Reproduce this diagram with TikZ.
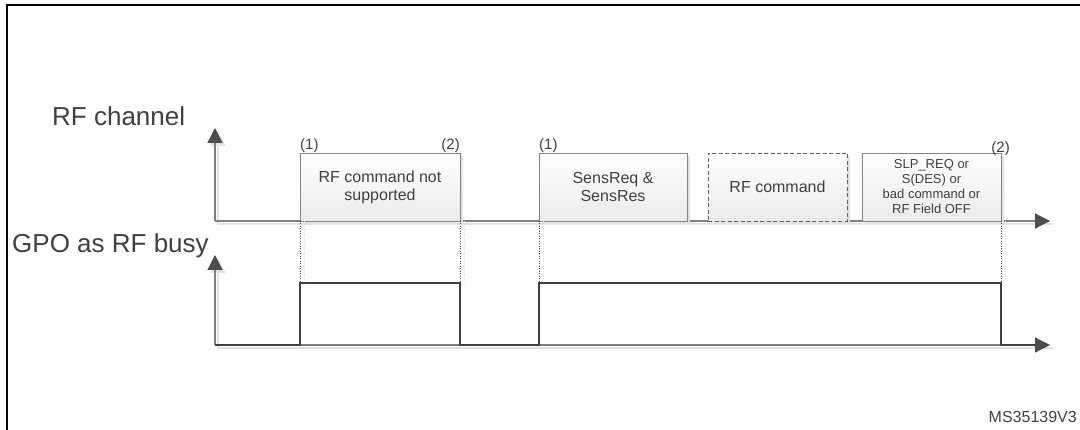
\documentclass[tikz,border=0pt]{standalone}
\usepackage{fontspec}
\setmainfont{Liberation Sans}
\usetikzlibrary{arrows.meta}
\usetikzlibrary{shadows}
\definecolor{txtgray}{HTML}{404040}
\definecolor{axgray}{HTML}{808080}
\definecolor{tipgray}{HTML}{4D4D4D}
\definecolor{shgray}{HTML}{E2E2E2}

\tikzset{
  axisline/.style={color=axgray, line width=1.2pt, -{Triangle[length=15pt,width=15pt,color=tipgray]}},
  axisshadow/.style={color=shgray, line width=1.2pt, -{Triangle[length=15pt,width=15pt,color=shgray]}, transform canvas={shift={(3pt,-3pt)}}},
  pulse/.style={color=txtgray, line width=1.5pt, line join=miter},
  guide/.style={color=black!72, line width=1pt, dash pattern=on 1pt off 1.5pt},
  guideshadow/.style={color=shgray, line width=1pt, dash pattern=on 1.5pt off 1pt, transform canvas={shift={(4pt,0pt)}}},
  sigbox/.style={draw=black!48, line width=0.9pt, top color=white, bottom color=black!8,
    minimum height=68pt, inner sep=0pt, outer sep=0pt, align=center, text=txtgray,
    font=\fontsize{16}{18}\selectfont,
    drop shadow={shadow xshift=3pt, shadow yshift=-3pt, fill=shgray, opacity=1}},
  chlabel/.style={anchor=base west, inner sep=0pt, text=txtgray, font=\fontsize{26}{30}\selectfont},
  marker/.style={inner sep=0pt, text=txtgray, font=\fontsize{15}{17}\selectfont}
}

\begin{document}
\begin{tikzpicture}[line cap=butt, x=1pt, y=-1pt]
  \useasboundingbox (0,0) rectangle (1080,430);
  % frame
  \draw[line width=2pt] (7,431) -- (7,5.5) -- (1081,5.5);

  \coordinate (rf0) at (215,221);
  \coordinate (rfy) at (215,128);
  \coordinate (rfx) at (1050,221);
  \coordinate (gpo0) at (215,345);
  \coordinate (gpoy) at (215,255);
  \coordinate (gpox) at (1050,345);
  \coordinate (hi) at (0,283);
  \coordinate (lo) at (0,345);

  % axes
  \draw[axisshadow] (rfx) -- (rf0) -- (rfy);
  \draw[axisshadow] (gpox) -- (gpo0) -- (gpoy);
  \draw[axisline] (rf0) -- (rfy);
  \draw[axisline] (rf0) -- (rfx);
  \draw[axisline] (gpo0) -- (gpoy);
  \draw[axisline] (gpo0) -- (gpox);

  % RF frames
  \node[sigbox, minimum width=160pt] (cmd1) at (380,187) {RF command not\\supported};
  \node[sigbox, minimum width=148pt] (sens) at (613,187) {SensReq \&\\SensRes};
  \node[sigbox, minimum width=139pt, dash pattern=on 4pt off 2.5pt, draw=black!62] (cmd2) at (777.5,187) {RF command};
  \node[sigbox, minimum width=139pt, font=\fontsize{13}{15}\selectfont] (slp) at (931.5,187) {SLP\_REQ or\\S(DES) or\\bad command or\\RF Field OFF};

  % guides
  \foreach \a in {cmd1.south west, cmd1.south east, sens.south west, slp.south east} {
    \draw[guideshadow] (\a) -- (\a |- hi);
    \draw[guide] (\a) -- (\a |- hi);
  }

  % busy signal
  \draw[pulse] (gpo0) -- (cmd1.south west |- lo) -- (cmd1.south west |- hi)
    -- (cmd1.south east |- hi) -- (cmd1.south east |- lo) -- (sens.south west |- lo)
    -- (sens.south west |- hi) -- (slp.south east |- hi) -- (slp.south east |- lo)
    -- ([xshift=-14pt]gpox);

  % labels
  \node[chlabel] (rflbl) at (52,126) {RF channel};
  \node[chlabel] (gpolbl) at (12,253) {GPO as RF busy};
  \node[marker, anchor=base west] (m1) at ([yshift=3pt]cmd1.north west) {(1)};
  \node[marker, anchor=base east] (m2) at ([yshift=3pt]cmd1.north east) {(2)};
  \node[marker, anchor=base west] (m3) at ([yshift=3pt]sens.north west) {(1)};
  \node[marker, anchor=base east] (m4) at ([xshift=9pt]slp.north east) {(2)};
  \node[anchor=base east, inner sep=0pt, text=txtgray, font=\fontsize{16}{18}\selectfont] (msid) at (1077,423) {MS35139V3};
\end{tikzpicture}
\end{document}
